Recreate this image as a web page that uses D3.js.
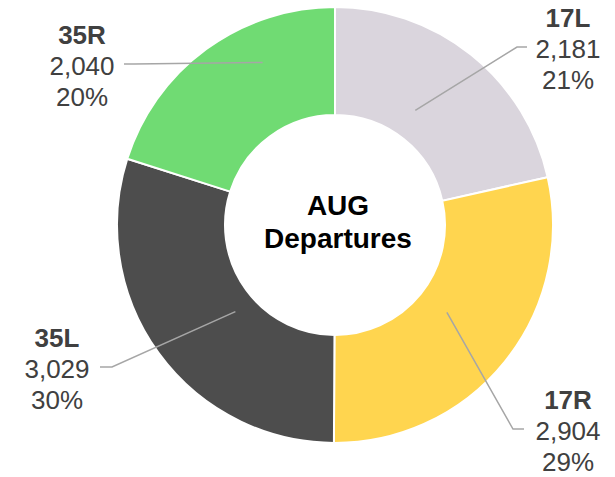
<!DOCTYPE html>
<html>
<head>
<meta charset="utf-8">
<script src="https://cdn.jsdelivr.net/npm/d3@7"></script>
<style>
  body { margin: 0; background: #fff; }
  text { font-family: "Liberation Sans", Arial, sans-serif; }
</style>
</head>
<body>
<div class="plot"></div>
<script>
// data
const runways = ["17L", "17R", "35L", "35R"];
const departures = [2181, 2904, 3029, 2040];
const colors = ["#DAD5DD", "#FFD54F", "#4D4D4D", "#70DB73"];
const centerTitle = ["AUG", "Departures"];

const W = 615, H = 477;
const cx = 335, cy = 225;
const outerR = 218, innerR = 110;

// label placement: text centre x, first baseline y, elbow x, line end x, leader start (deg, radius)
const labelLayout = [
    {x: 568, y: 27, elbow: 517, end: 527, ang: 35, r: 140},
    {x: 568, y: 409, elbow: 513, end: 524, ang: 128, r: 142},
    {x: 57, y: 347, elbow: 112, end: 100, ang: 229, r: 132},
    {x: 82, y: 44, elbow: 134, end: 124, ang: 336, r: 178}
];

const svg = d3.select(".plot")
    .append("svg")
        .attr("width", W)
        .attr("height", H);

const g = svg.append("g")
    .attr("transform", "translate(" + cx + "," + cy + ")");

const total = d3.sum(departures);
const pie = d3.pie().sort(null).value(d => d)(departures);
const arc = d3.arc().innerRadius(innerR).outerRadius(outerR);

// slices
g.selectAll("path.slice")
    .data(pie)
    .enter()
    .append("path")
        .attr("class", "slice")
        .attr("d", arc)
        .attr("fill", (d, i) => colors[i])
        .attr("stroke", "#fff")
        .attr("stroke-width", 2);

// leader lines + labels
const fmt = d3.format(",");
pie.forEach((d, i) => {
    const L = labelLayout[i];
    const p = d3.pointRadial(L.ang * Math.PI / 180, L.r);
    const ly = L.y + 31 - 11;
    svg.append("polyline")
        .attr("points", [[p[0] + cx, p[1] + cy], [L.elbow, ly], [L.end, ly]].map(q => q.join(",")).join(" "))
        .attr("fill", "none")
        .attr("stroke", "#A6A6A6")
        .attr("stroke-width", 1.5);

    const t = svg.append("text")
        .attr("text-anchor", "middle")
        .attr("fill", "#404040")
        .style("font-size", "26px");
    t.append("tspan")
        .attr("x", L.x).attr("y", L.y)
        .style("font-weight", "bold")
        .text(runways[i]);
    t.append("tspan")
        .attr("x", L.x).attr("y", L.y + 31)
        .text(fmt(departures[i]));
    t.append("tspan")
        .attr("x", L.x).attr("y", L.y + 62)
        .text(Math.round(departures[i] / total * 100) + "%");
});

// centre title
const ct = g.append("text")
    .attr("text-anchor", "middle")
    .attr("fill", "#000")
    .style("font-size", "28px")
    .style("font-weight", "bold");
ct.append("tspan").attr("x", 3).attr("y", -10).text(centerTitle[0]);
ct.append("tspan").attr("x", 3).attr("y", 23).text(centerTitle[1]);
</script>
</body>
</html>
